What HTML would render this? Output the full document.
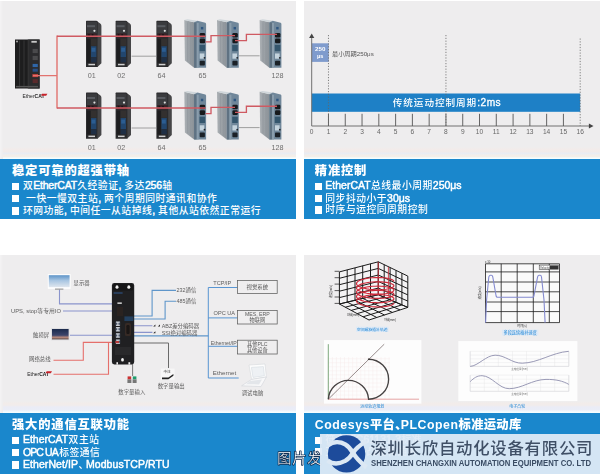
<!DOCTYPE html>
<html lang="zh-CN"><head><meta charset="utf-8"><title>EtherCAT</title>
<style>
html,body{margin:0;padding:0;background:#fff;}
body{width:600px;height:474px;position:relative;overflow:hidden;font-family:"Liberation Sans","Noto Sans CJK SC",sans-serif;}
.p{position:absolute;}
.gray{background:#eeedee;}
.blue{background:#1a87cc;color:#fff;}
.blue h3{position:absolute;margin:0;left:12px;font-weight:900;font-size:12.3px;line-height:16px;white-space:nowrap;font-family:"Liberation Sans","Noto Sans CJK SC",sans-serif;letter-spacing:0.8px}
.blue .l{position:absolute;left:12.5px;font-size:9.8px;line-height:12px;white-space:nowrap;font-family:"Liberation Sans","Noto Sans CJK SC",sans-serif;font-weight:500;letter-spacing:0.5px}
.blue .d{margin-right:-0.3em}
.blue .e{font-weight:400;-webkit-text-stroke:0.45px #fff;font-size:10.5px;letter-spacing:0;margin-right:0.4px}
.blue .c{font-weight:400;-webkit-text-stroke:0.45px #fff;font-size:10.5px;letter-spacing:-0.2px;margin-right:0.4px}
.blue .l i{display:inline-block;width:7.5px;height:7.3px;background:#fff;margin-right:1.8px;vertical-align:-0.6px}
svg{position:absolute;left:0;top:0;}
svg text{font-family:"Liberation Sans","Noto Sans CJK SC",sans-serif;}
#w{position:absolute;left:0;top:0;width:600px;height:474px;overflow:hidden;filter:blur(0.45px)}
</style></head><body><div id="w">

<div class="p gray" style="left:0;top:1px;width:296px;height:158px"></div>
<div class="p gray" style="left:304px;top:1px;width:296px;height:158px"></div>
<div class="p gray" style="left:0;top:255px;width:296px;height:158px"></div>
<div class="p gray" style="left:304px;top:255px;width:296px;height:158px"></div>
<div class="p" style="left:0px;top:147px;width:296px;height:12px;background:linear-gradient(#eeedee 0,#f3ebe9 25%,#f1ebea 40%,#e9ecf3 52%,#f3eee9 70%,#f4efe9 80%,#f4fcfe 92%,#f6feff 100%)"></div>
<div class="p" style="left:0px;top:401px;width:296px;height:12px;background:linear-gradient(#eeedee 0,#f2ecea 22%,#f1ecec 36%,#eaecf6 50%,#eaedf7 74%,#f2fbfe 90%,#f5feff 100%)"></div>
<div class="p" style="left:304px;top:147px;width:296px;height:12px;background:linear-gradient(#eeedee 0,#f3ebe9 25%,#f1ebea 40%,#e9ecf3 52%,#f3eee9 70%,#f4efe9 80%,#f4fcfe 92%,#f6feff 100%)"></div>
<div class="p" style="left:304px;top:401px;width:296px;height:12px;background:linear-gradient(#eeedee 0,#f2ecea 22%,#f1ecec 36%,#eaecf6 50%,#eaedf7 74%,#f2fbfe 90%,#f5feff 100%)"></div>
<div class="p" style="left:0;top:1px;width:3px;height:158px;background:linear-gradient(90deg,#f4f3f4,#eeedee)"></div>
<div class="p" style="left:0;top:255px;width:3px;height:158px;background:linear-gradient(90deg,#f4f3f4,#eeedee)"></div>
<div class="p blue" style="left:0px;top:159px;width:296px;height:60px"><h3 style="top:3.6px;left:12px">稳定可靠的超强带轴</h3><div class="l" style="left:12.2px;top:20.4px"><i style="width:7.2px;margin-right:3.5px"></i>双<span class="c">EtherCAT</span>久经验证<span class="c">, </span>多达<span class="c">256</span>轴</div><div class="l" style="left:12.2px;top:32.75px"><i style="width:7.2px;margin-right:3.5px"></i>&nbsp;一快一慢双主站<span class="c">, </span>两个周期同时通讯和协作</div><div class="l" style="left:12.2px;top:45.1px"><i style="width:7.2px;margin-right:3.5px"></i>环网功能<span class="c">, </span>中间任一从站掉线<span class="c">, </span>其他从站依然正常运行</div></div>
<div class="p blue" style="left:304px;top:159px;width:296px;height:60px"><h3 style="top:3.6px;left:10.8px">精准控制</h3><div class="l" style="left:11px;top:20.4px"><i style="width:7.3px;margin-right:3px"></i><span class="e">EtherCAT</span>总线最小周期<span class="e">250μs</span></div><div class="l" style="left:11px;top:32.75px"><i style="width:7.3px;margin-right:3px"></i>同步抖动小于<span class="e">30μs</span></div><div class="l" style="left:11px;top:45.1px"><i style="width:7.3px;margin-right:3px"></i>时序与运控同周期控制</div></div>
<div class="p blue" style="left:0px;top:413px;width:296px;height:61px"><h3 style="top:3.6px;left:12px">强大的通信互联功能</h3><div class="l" style="left:12.2px;top:20.4px"><i style="width:7.2px;margin-right:3.5px"></i><span class="e">EtherCAT</span>双主站</div><div class="l" style="left:12.2px;top:32.75px"><i style="width:7.2px;margin-right:3.5px"></i><span class="e" style="letter-spacing:-0.9px;margin-right:1.5px">OPC UA</span>标签通信</div><div class="l" style="left:12.2px;top:45.1px"><i style="width:7.2px;margin-right:3.5px"></i><span class="e" style="letter-spacing:0.09px">EtherNet/IP</span><span class="d">、</span><span class="e" style="letter-spacing:0.09px">ModbusTCP/RTU</span></div></div>
<div class="p blue" style="left:304px;top:413px;width:296px;height:61px"><h3 style="top:3.6px;left:10.8px"><span style="letter-spacing:0.3px"><span style="letter-spacing:0.55px">Codesys</span>平台<span style="margin-right:-7px">、</span><span style="letter-spacing:0.55px">PLCopen</span>标准运动库</span></h3><div class="l" style="left:11px;top:20.4px"><i style="width:7.3px;margin-right:3px"></i>符合<span class="e">IEC61131-3</span>标准</div><div class="l" style="left:11px;top:32.75px"><i style="width:7.3px;margin-right:3px"></i>支持电子凸轮和插补</div></div>
<svg width="600" height="474" viewBox="0 0 600 474">
<g id="timeline">
<rect x="311.7" y="93.5" width="268.5" height="18.3" fill="#1e80c6"/>
<rect x="311.7" y="43.3" width="17.0813" height="18.6" fill="#7f9bcd"/>
<path d="M311.7 38 V126 H590" stroke="#707070" stroke-width="1" fill="none"/>
<path d="M311.7 33.5 l-2.6 4.6 h5.2z" fill="#444"/>
<path d="M593.5 126 l-4.6 -2.6 v5.2z" fill="#444"/>
<path d="M328.48 113.8 V126" stroke="#555" stroke-width="0.9"/>
<path d="M345.26 113.8 V126" stroke="#555" stroke-width="0.9"/>
<path d="M362.04 113.8 V126" stroke="#555" stroke-width="0.9"/>
<path d="M378.82 113.8 V126" stroke="#555" stroke-width="0.9"/>
<path d="M395.61 113.8 V126" stroke="#555" stroke-width="0.9"/>
<path d="M412.39 113.8 V126" stroke="#555" stroke-width="0.9"/>
<path d="M429.17 113.8 V126" stroke="#555" stroke-width="0.9"/>
<path d="M445.95 113.8 V126" stroke="#555" stroke-width="0.9"/>
<path d="M462.73 113.8 V126" stroke="#555" stroke-width="0.9"/>
<path d="M479.51 113.8 V126" stroke="#555" stroke-width="0.9"/>
<path d="M496.29 113.8 V126" stroke="#555" stroke-width="0.9"/>
<path d="M513.08 113.8 V126" stroke="#555" stroke-width="0.9"/>
<path d="M529.86 113.8 V126" stroke="#555" stroke-width="0.9"/>
<path d="M546.64 113.8 V126" stroke="#555" stroke-width="0.9"/>
<path d="M563.42 113.8 V126" stroke="#555" stroke-width="0.9"/>
<path d="M328.48 35 V126" stroke="#666" stroke-width="0.8" stroke-dasharray="1.2 1.6"/>
<path d="M445.95 35 V126" stroke="#666" stroke-width="0.8" stroke-dasharray="1.2 1.6"/>
<path d="M580.20 38.5 V126" stroke="#666" stroke-width="0.8" stroke-dasharray="1.2 1.6"/>
<text x="311.70" y="134.2" font-size="6.6" fill="#666" text-anchor="middle">0</text>
<text x="328.48" y="134.2" font-size="6.6" fill="#666" text-anchor="middle">1</text>
<text x="345.26" y="134.2" font-size="6.6" fill="#666" text-anchor="middle">2</text>
<text x="362.04" y="134.2" font-size="6.6" fill="#666" text-anchor="middle">3</text>
<text x="378.82" y="134.2" font-size="6.6" fill="#666" text-anchor="middle">4</text>
<text x="395.61" y="134.2" font-size="6.6" fill="#666" text-anchor="middle">5</text>
<text x="412.39" y="134.2" font-size="6.6" fill="#666" text-anchor="middle">6</text>
<text x="429.17" y="134.2" font-size="6.6" fill="#666" text-anchor="middle">7</text>
<text x="445.95" y="134.2" font-size="6.6" fill="#666" text-anchor="middle">8</text>
<text x="462.73" y="134.2" font-size="6.6" fill="#666" text-anchor="middle">9</text>
<text x="479.51" y="134.2" font-size="6.6" fill="#666" text-anchor="middle">10</text>
<text x="496.29" y="134.2" font-size="6.6" fill="#666" text-anchor="middle">11</text>
<text x="513.08" y="134.2" font-size="6.6" fill="#666" text-anchor="middle">12</text>
<text x="529.86" y="134.2" font-size="6.6" fill="#666" text-anchor="middle">13</text>
<text x="546.64" y="134.2" font-size="6.6" fill="#666" text-anchor="middle">14</text>
<text x="563.42" y="134.2" font-size="6.6" fill="#666" text-anchor="middle">15</text>
<text x="580.20" y="134.2" font-size="6.6" fill="#666" text-anchor="middle">16</text>
<text x="447" y="106.2" font-size="9.6" fill="#fff" text-anchor="middle" style="font-family:'Liberation Sans','Noto Sans CJK SC',sans-serif;font-weight:500" letter-spacing="0.95">传统运动控制周期<tspan font-weight="normal" font-size="10.2" letter-spacing="0.5" stroke="#fff" stroke-width="0.3">:2ms</tspan></text>
<text x="320.2" y="51.3" font-size="6.2" fill="#fff" text-anchor="middle" font-weight="bold">250</text>
<text x="320.2" y="57.8" font-size="5.6" fill="#fff" text-anchor="middle" font-weight="bold">μs</text>
<text x="332" y="56.2" font-size="6.2" fill="#555">最小周期250μs</text>
</g>
<g id="tl">
<defs><linearGradient id="mside" x1="0" y1="0" x2="1" y2="0"><stop offset="0" stop-color="#abb0b4"/><stop offset="1" stop-color="#8a9197"/></linearGradient></defs>
<g transform="translate(15 39.5)">
<rect x="0" y="0" width="24.6" height="49" fill="#1d1d1e"/>
<rect x="13.4" y="0" width="11.2" height="49" fill="#2b2b2d"/>
<path d="M4.6 1 V48 M9 1 V48 M13.2 0 V49" stroke="#3c3c3e" stroke-width="0.8"/>
<rect x="1.2" y="1.2" width="1.6" height="1.6" fill="#bbb"/>
<rect x="16.4" y="1.4" width="5.4" height="1.8" fill="#c9c9c9"/>
<rect x="1" y="46.4" width="22" height="1.4" fill="#555"/>
<rect x="17.6" y="9.4" width="5.2" height="4.2" fill="#4a4a4c"/>
<rect x="17.6" y="16.4" width="5.2" height="4.2" fill="#4a4a4c"/>
<rect x="17.6" y="24.4" width="5.2" height="3.2" fill="#2f66a8"/>
<rect x="17.6" y="29.2" width="5.2" height="3" fill="#274f86"/>
<rect x="17.4" y="34.6" width="5.6" height="3" fill="#c9443f"/>
<rect x="17.6" y="39.6" width="5.2" height="4" fill="#5a2a2c"/>
</g>
<g transform="translate(85.8 20.8)">
<path d="M11.2 0.4 L14.4 2.6 Q15.6 3.4 15.6 5 V42.4 L11.6 46.2 Z" fill="#454547"/>
<path d="M0.8 0 H10.6 Q12 0 12 1.6 V46.2 H0.2 V0.6 Q0.2 0 0.8 0Z" fill="#2b2b2d"/>
<rect x="0.8" y="1" width="10.4" height="11.6" fill="#3a3b3e"/>
<rect x="1.2" y="4.4" width="8" height="2" fill="#595c61"/>
<circle cx="8.6" cy="10" r="1.1" fill="#dcdcdc"/>
<rect x="1.6" y="12.6" width="9" height="4.4" fill="#3b2328"/>
<circle cx="3.2" cy="14.2" r="1" fill="#17171a"/><circle cx="6.8" cy="14.2" r="1" fill="#17171a"/>
<rect x="1.2" y="18" width="3.6" height="24" fill="#1d1d1f"/>
<rect x="5.2" y="18" width="5.6" height="7" fill="#33302f"/>
<rect x="5.2" y="25.4" width="5.4" height="11" fill="#22466e"/>
<rect x="5.8" y="27" width="3.8" height="4" fill="#2c5d91"/>
<rect x="5.2" y="36.6" width="5.4" height="5" fill="#1f2f45"/>
<rect x="2.6" y="43" width="6.6" height="1.5" fill="#d0d0d0"/>
</g>
<g transform="translate(115.4 20.8)">
<path d="M11.2 0.4 L14.4 2.6 Q15.6 3.4 15.6 5 V42.4 L11.6 46.2 Z" fill="#454547"/>
<path d="M0.8 0 H10.6 Q12 0 12 1.6 V46.2 H0.2 V0.6 Q0.2 0 0.8 0Z" fill="#2b2b2d"/>
<rect x="0.8" y="1" width="10.4" height="11.6" fill="#3a3b3e"/>
<rect x="1.2" y="4.4" width="8" height="2" fill="#595c61"/>
<circle cx="8.6" cy="10" r="1.1" fill="#dcdcdc"/>
<rect x="1.6" y="12.6" width="9" height="4.4" fill="#3b2328"/>
<circle cx="3.2" cy="14.2" r="1" fill="#17171a"/><circle cx="6.8" cy="14.2" r="1" fill="#17171a"/>
<rect x="1.2" y="18" width="3.6" height="24" fill="#1d1d1f"/>
<rect x="5.2" y="18" width="5.6" height="7" fill="#33302f"/>
<rect x="5.2" y="25.4" width="5.4" height="11" fill="#22466e"/>
<rect x="5.8" y="27" width="3.8" height="4" fill="#2c5d91"/>
<rect x="5.2" y="36.6" width="5.4" height="5" fill="#1f2f45"/>
<rect x="2.6" y="43" width="6.6" height="1.5" fill="#d0d0d0"/>
</g>
<g transform="translate(156.2 20.8)">
<path d="M11.2 0.4 L14.4 2.6 Q15.6 3.4 15.6 5 V42.4 L11.6 46.2 Z" fill="#454547"/>
<path d="M0.8 0 H10.6 Q12 0 12 1.6 V46.2 H0.2 V0.6 Q0.2 0 0.8 0Z" fill="#2b2b2d"/>
<rect x="0.8" y="1" width="10.4" height="11.6" fill="#3a3b3e"/>
<rect x="1.2" y="4.4" width="8" height="2" fill="#595c61"/>
<circle cx="8.6" cy="10" r="1.1" fill="#dcdcdc"/>
<rect x="1.6" y="12.6" width="9" height="4.4" fill="#3b2328"/>
<circle cx="3.2" cy="14.2" r="1" fill="#17171a"/><circle cx="6.8" cy="14.2" r="1" fill="#17171a"/>
<rect x="1.2" y="18" width="3.6" height="24" fill="#1d1d1f"/>
<rect x="5.2" y="18" width="5.6" height="7" fill="#33302f"/>
<rect x="5.2" y="25.4" width="5.4" height="11" fill="#22466e"/>
<rect x="5.8" y="27" width="3.8" height="4" fill="#2c5d91"/>
<rect x="5.2" y="36.6" width="5.4" height="5" fill="#1f2f45"/>
<rect x="2.6" y="43" width="6.6" height="1.5" fill="#d0d0d0"/>
</g>
<g transform="translate(184.3 19.2) scale(1 1.045)">
<path d="M0 0.8 L9.8 3 V46.4 L0.6 39.6 Z" fill="url(#mside)"/>
<path d="M0 0.8 L3 0 L13.2 1.4 L9.8 3 Z" fill="#cfd6da"/>
<path d="M3.4 3 V40.6 M6.4 3.6 V43" stroke="#8f969b" stroke-width="0.7" fill="none"/>
<path d="M9.8 3 L13.2 1.4 L21 3.4 Q21.8 3.7 21.8 4.6 V46.4 H9.8 Z" fill="#70879a"/>
<rect x="9.8" y="3.2" width="2.6" height="43.2" fill="#5f7282"/>
<rect x="12.4" y="3.6" width="2" height="42.8" fill="#8a9dac"/>
<rect x="16.6" y="7.4" width="2.4" height="2.4" fill="#2f5680"/>
<rect x="15.4" y="13.1" width="5.4" height="4.4" rx="1.2" fill="#17191c"/>
<rect x="15.4" y="18.5" width="5.4" height="4.4" rx="1.2" fill="#17191c"/>
<rect x="15.2" y="24.6" width="5.6" height="6" fill="#35566d"/>
<rect x="15.4" y="32.8" width="4.6" height="5" fill="#c4d3dd"/>
<circle cx="20.2" cy="37" r="0.9" fill="#1d2228"/>
<rect x="15.4" y="39.8" width="5.2" height="4.4" rx="0.8" fill="#1b2127"/>
</g>
<g transform="translate(217 19.2) scale(1 1.045)">
<path d="M0 0.8 L9.8 3 V46.4 L0.6 39.6 Z" fill="url(#mside)"/>
<path d="M0 0.8 L3 0 L13.2 1.4 L9.8 3 Z" fill="#cfd6da"/>
<path d="M3.4 3 V40.6 M6.4 3.6 V43" stroke="#8f969b" stroke-width="0.7" fill="none"/>
<path d="M9.8 3 L13.2 1.4 L21 3.4 Q21.8 3.7 21.8 4.6 V46.4 H9.8 Z" fill="#70879a"/>
<rect x="9.8" y="3.2" width="2.6" height="43.2" fill="#5f7282"/>
<rect x="12.4" y="3.6" width="2" height="42.8" fill="#8a9dac"/>
<rect x="16.6" y="7.4" width="2.4" height="2.4" fill="#2f5680"/>
<rect x="15.4" y="13.1" width="5.4" height="4.4" rx="1.2" fill="#17191c"/>
<rect x="15.4" y="18.5" width="5.4" height="4.4" rx="1.2" fill="#17191c"/>
<rect x="15.2" y="24.6" width="5.6" height="6" fill="#35566d"/>
<rect x="15.4" y="32.8" width="4.6" height="5" fill="#c4d3dd"/>
<circle cx="20.2" cy="37" r="0.9" fill="#1d2228"/>
<rect x="15.4" y="39.8" width="5.2" height="4.4" rx="0.8" fill="#1b2127"/>
</g>
<g transform="translate(259.6 19.2) scale(1 1.045)">
<path d="M0 0.8 L9.8 3 V46.4 L0.6 39.6 Z" fill="url(#mside)"/>
<path d="M0 0.8 L3 0 L13.2 1.4 L9.8 3 Z" fill="#cfd6da"/>
<path d="M3.4 3 V40.6 M6.4 3.6 V43" stroke="#8f969b" stroke-width="0.7" fill="none"/>
<path d="M9.8 3 L13.2 1.4 L21 3.4 Q21.8 3.7 21.8 4.6 V46.4 H9.8 Z" fill="#70879a"/>
<rect x="9.8" y="3.2" width="2.6" height="43.2" fill="#5f7282"/>
<rect x="12.4" y="3.6" width="2" height="42.8" fill="#8a9dac"/>
<rect x="16.6" y="7.4" width="2.4" height="2.4" fill="#2f5680"/>
<rect x="15.4" y="13.1" width="5.4" height="4.4" rx="1.2" fill="#17191c"/>
<rect x="15.4" y="18.5" width="5.4" height="4.4" rx="1.2" fill="#17191c"/>
<rect x="15.2" y="24.6" width="5.6" height="6" fill="#35566d"/>
<rect x="15.4" y="32.8" width="4.6" height="5" fill="#c4d3dd"/>
<circle cx="20.2" cy="37" r="0.9" fill="#1d2228"/>
<rect x="15.4" y="39.8" width="5.2" height="4.4" rx="0.8" fill="#1b2127"/>
</g>
<path d="M131.6 56.2 H156" stroke="#8a8a8a" stroke-width="0.8"/>
<path d="M239 55.8 H259.6" stroke="#8a8a8a" stroke-width="0.8"/>
<text x="91.8" y="77.8" font-size="7.2" fill="#6e6e6e" text-anchor="middle">01</text>
<text x="121.2" y="77.8" font-size="7.2" fill="#6e6e6e" text-anchor="middle">02</text>
<text x="161.6" y="77.8" font-size="7.2" fill="#6e6e6e" text-anchor="middle">64</text>
<text x="202.4" y="77.8" font-size="7.2" fill="#6e6e6e" text-anchor="middle">65</text>
<text x="277.6" y="77.8" font-size="7.2" fill="#6e6e6e" text-anchor="middle">128</text>
<g transform="translate(85.8 92.6)">
<path d="M11.2 0.4 L14.4 2.6 Q15.6 3.4 15.6 5 V42.4 L11.6 46.2 Z" fill="#454547"/>
<path d="M0.8 0 H10.6 Q12 0 12 1.6 V46.2 H0.2 V0.6 Q0.2 0 0.8 0Z" fill="#2b2b2d"/>
<rect x="0.8" y="1" width="10.4" height="11.6" fill="#3a3b3e"/>
<rect x="1.2" y="4.4" width="8" height="2" fill="#595c61"/>
<circle cx="8.6" cy="10" r="1.1" fill="#dcdcdc"/>
<rect x="1.6" y="12.6" width="9" height="4.4" fill="#3b2328"/>
<circle cx="3.2" cy="14.2" r="1" fill="#17171a"/><circle cx="6.8" cy="14.2" r="1" fill="#17171a"/>
<rect x="1.2" y="18" width="3.6" height="24" fill="#1d1d1f"/>
<rect x="5.2" y="18" width="5.6" height="7" fill="#33302f"/>
<rect x="5.2" y="25.4" width="5.4" height="11" fill="#22466e"/>
<rect x="5.8" y="27" width="3.8" height="4" fill="#2c5d91"/>
<rect x="5.2" y="36.6" width="5.4" height="5" fill="#1f2f45"/>
<rect x="2.6" y="43" width="6.6" height="1.5" fill="#d0d0d0"/>
</g>
<g transform="translate(115.4 92.6)">
<path d="M11.2 0.4 L14.4 2.6 Q15.6 3.4 15.6 5 V42.4 L11.6 46.2 Z" fill="#454547"/>
<path d="M0.8 0 H10.6 Q12 0 12 1.6 V46.2 H0.2 V0.6 Q0.2 0 0.8 0Z" fill="#2b2b2d"/>
<rect x="0.8" y="1" width="10.4" height="11.6" fill="#3a3b3e"/>
<rect x="1.2" y="4.4" width="8" height="2" fill="#595c61"/>
<circle cx="8.6" cy="10" r="1.1" fill="#dcdcdc"/>
<rect x="1.6" y="12.6" width="9" height="4.4" fill="#3b2328"/>
<circle cx="3.2" cy="14.2" r="1" fill="#17171a"/><circle cx="6.8" cy="14.2" r="1" fill="#17171a"/>
<rect x="1.2" y="18" width="3.6" height="24" fill="#1d1d1f"/>
<rect x="5.2" y="18" width="5.6" height="7" fill="#33302f"/>
<rect x="5.2" y="25.4" width="5.4" height="11" fill="#22466e"/>
<rect x="5.8" y="27" width="3.8" height="4" fill="#2c5d91"/>
<rect x="5.2" y="36.6" width="5.4" height="5" fill="#1f2f45"/>
<rect x="2.6" y="43" width="6.6" height="1.5" fill="#d0d0d0"/>
</g>
<g transform="translate(156.2 92.6)">
<path d="M11.2 0.4 L14.4 2.6 Q15.6 3.4 15.6 5 V42.4 L11.6 46.2 Z" fill="#454547"/>
<path d="M0.8 0 H10.6 Q12 0 12 1.6 V46.2 H0.2 V0.6 Q0.2 0 0.8 0Z" fill="#2b2b2d"/>
<rect x="0.8" y="1" width="10.4" height="11.6" fill="#3a3b3e"/>
<rect x="1.2" y="4.4" width="8" height="2" fill="#595c61"/>
<circle cx="8.6" cy="10" r="1.1" fill="#dcdcdc"/>
<rect x="1.6" y="12.6" width="9" height="4.4" fill="#3b2328"/>
<circle cx="3.2" cy="14.2" r="1" fill="#17171a"/><circle cx="6.8" cy="14.2" r="1" fill="#17171a"/>
<rect x="1.2" y="18" width="3.6" height="24" fill="#1d1d1f"/>
<rect x="5.2" y="18" width="5.6" height="7" fill="#33302f"/>
<rect x="5.2" y="25.4" width="5.4" height="11" fill="#22466e"/>
<rect x="5.8" y="27" width="3.8" height="4" fill="#2c5d91"/>
<rect x="5.2" y="36.6" width="5.4" height="5" fill="#1f2f45"/>
<rect x="2.6" y="43" width="6.6" height="1.5" fill="#d0d0d0"/>
</g>
<g transform="translate(184.3 91) scale(1 1.045)">
<path d="M0 0.8 L9.8 3 V46.4 L0.6 39.6 Z" fill="url(#mside)"/>
<path d="M0 0.8 L3 0 L13.2 1.4 L9.8 3 Z" fill="#cfd6da"/>
<path d="M3.4 3 V40.6 M6.4 3.6 V43" stroke="#8f969b" stroke-width="0.7" fill="none"/>
<path d="M9.8 3 L13.2 1.4 L21 3.4 Q21.8 3.7 21.8 4.6 V46.4 H9.8 Z" fill="#70879a"/>
<rect x="9.8" y="3.2" width="2.6" height="43.2" fill="#5f7282"/>
<rect x="12.4" y="3.6" width="2" height="42.8" fill="#8a9dac"/>
<rect x="16.6" y="7.4" width="2.4" height="2.4" fill="#2f5680"/>
<rect x="15.4" y="13.1" width="5.4" height="4.4" rx="1.2" fill="#17191c"/>
<rect x="15.4" y="18.5" width="5.4" height="4.4" rx="1.2" fill="#17191c"/>
<rect x="15.2" y="24.6" width="5.6" height="6" fill="#35566d"/>
<rect x="15.4" y="32.8" width="4.6" height="5" fill="#c4d3dd"/>
<circle cx="20.2" cy="37" r="0.9" fill="#1d2228"/>
<rect x="15.4" y="39.8" width="5.2" height="4.4" rx="0.8" fill="#1b2127"/>
</g>
<g transform="translate(217 91) scale(1 1.045)">
<path d="M0 0.8 L9.8 3 V46.4 L0.6 39.6 Z" fill="url(#mside)"/>
<path d="M0 0.8 L3 0 L13.2 1.4 L9.8 3 Z" fill="#cfd6da"/>
<path d="M3.4 3 V40.6 M6.4 3.6 V43" stroke="#8f969b" stroke-width="0.7" fill="none"/>
<path d="M9.8 3 L13.2 1.4 L21 3.4 Q21.8 3.7 21.8 4.6 V46.4 H9.8 Z" fill="#70879a"/>
<rect x="9.8" y="3.2" width="2.6" height="43.2" fill="#5f7282"/>
<rect x="12.4" y="3.6" width="2" height="42.8" fill="#8a9dac"/>
<rect x="16.6" y="7.4" width="2.4" height="2.4" fill="#2f5680"/>
<rect x="15.4" y="13.1" width="5.4" height="4.4" rx="1.2" fill="#17191c"/>
<rect x="15.4" y="18.5" width="5.4" height="4.4" rx="1.2" fill="#17191c"/>
<rect x="15.2" y="24.6" width="5.6" height="6" fill="#35566d"/>
<rect x="15.4" y="32.8" width="4.6" height="5" fill="#c4d3dd"/>
<circle cx="20.2" cy="37" r="0.9" fill="#1d2228"/>
<rect x="15.4" y="39.8" width="5.2" height="4.4" rx="0.8" fill="#1b2127"/>
</g>
<g transform="translate(259.6 91) scale(1 1.045)">
<path d="M0 0.8 L9.8 3 V46.4 L0.6 39.6 Z" fill="url(#mside)"/>
<path d="M0 0.8 L3 0 L13.2 1.4 L9.8 3 Z" fill="#cfd6da"/>
<path d="M3.4 3 V40.6 M6.4 3.6 V43" stroke="#8f969b" stroke-width="0.7" fill="none"/>
<path d="M9.8 3 L13.2 1.4 L21 3.4 Q21.8 3.7 21.8 4.6 V46.4 H9.8 Z" fill="#70879a"/>
<rect x="9.8" y="3.2" width="2.6" height="43.2" fill="#5f7282"/>
<rect x="12.4" y="3.6" width="2" height="42.8" fill="#8a9dac"/>
<rect x="16.6" y="7.4" width="2.4" height="2.4" fill="#2f5680"/>
<rect x="15.4" y="13.1" width="5.4" height="4.4" rx="1.2" fill="#17191c"/>
<rect x="15.4" y="18.5" width="5.4" height="4.4" rx="1.2" fill="#17191c"/>
<rect x="15.2" y="24.6" width="5.6" height="6" fill="#35566d"/>
<rect x="15.4" y="32.8" width="4.6" height="5" fill="#c4d3dd"/>
<circle cx="20.2" cy="37" r="0.9" fill="#1d2228"/>
<rect x="15.4" y="39.8" width="5.2" height="4.4" rx="0.8" fill="#1b2127"/>
</g>
<path d="M131.6 128 H156" stroke="#8a8a8a" stroke-width="0.8"/>
<path d="M239 127.6 H259.6" stroke="#8a8a8a" stroke-width="0.8"/>
<text x="91.8" y="149.6" font-size="7.2" fill="#6e6e6e" text-anchor="middle">01</text>
<text x="121.2" y="149.6" font-size="7.2" fill="#6e6e6e" text-anchor="middle">02</text>
<text x="161.6" y="149.6" font-size="7.2" fill="#6e6e6e" text-anchor="middle">64</text>
<text x="202.4" y="149.6" font-size="7.2" fill="#6e6e6e" text-anchor="middle">65</text>
<text x="277.6" y="149.6" font-size="7.2" fill="#6e6e6e" text-anchor="middle">128</text>
<path d="M33 75.6 H57 M57 35.6 V108.4" stroke="#e2736f" stroke-width="1.4" fill="none"/>
<path d="M57 36.2 H205.6 M205.6 41.8 H211 V35.6 H235 M235 40.6 H246.4 V34.4 H277" stroke="#cf5a62" stroke-width="1.35" fill="none"/>
<path d="M57 108 H205.6 M205.6 113.6 H211 V107.4 H235 M235 112.4 H246.4 V106.2 H277" stroke="#cf5a62" stroke-width="1.35" fill="none"/>
<text x="22.6" y="98.2" font-size="5" fill="#222"><tspan>Ether</tspan><tspan font-weight="bold">CAT</tspan></text>
<path d="M42 93.8 h5.4 l-1.2 2 h-5z" fill="#c8222a"/>
</g>
<g id="bl">
<defs><linearGradient id="sky" x1="0" y1="0" x2="0" y2="1"><stop offset="0" stop-color="#5d94c8"/><stop offset="0.45" stop-color="#a9c6e2"/><stop offset="1" stop-color="#dfe6ee"/></linearGradient><linearGradient id="dusk" x1="0" y1="0" x2="0" y2="1"><stop offset="0" stop-color="#1b2a4c"/><stop offset="0.6" stop-color="#3c456b"/><stop offset="0.8" stop-color="#b98a7c"/><stop offset="1" stop-color="#5a4a4a"/></linearGradient></defs>
<path d="M59.5 289.6 V303.9 H112" stroke="#8a94cc" stroke-width="1.1" fill="none"/>
<path d="M63 311 H112" stroke="#8a94cc" stroke-width="1.1" fill="none"/>
<path d="M70 335.2 H112" stroke="#8a94cc" stroke-width="1.1" fill="none"/>
<path d="M53.5 360.3 H83.3 V342.4 H118" stroke="#e56f6b" stroke-width="1.1" fill="none"/>
<path d="M53.5 374.2 H108.5 V342.4" stroke="#e56f6b" stroke-width="1.1" fill="none"/>
<path d="M134 316 H152.1 V290.4 H176" stroke="#5f96ca" stroke-width="1.1" fill="none"/>
<path d="M134 319 H165.1 V301.3 H176" stroke="#5f96ca" stroke-width="1.1" fill="none"/>
<path d="M134 325.8 H152.4 M134 332.4 H152.4" stroke="#8a94cc" stroke-width="1.1" fill="none"/>
<path d="M134 335.9 H208.3" stroke="#5f96ca" stroke-width="1.1" fill="none"/>
<path d="M134 343 H168.5 V368" stroke="#6a6a6a" stroke-width="1" fill="none"/>
<path d="M132.6 364 V376" stroke="#7a7a7a" stroke-width="1" fill="none"/>
<path d="M237.4 287.5 H208.3 V378 H238.7 M208.3 317.9 H237.4 M208.3 346.3 H237.4" stroke="#4f90d0" stroke-width="0.95" fill="none"/>
<g>
<rect x="111.9" y="283" width="22.3" height="81.5" rx="2.4" fill="#202022"/>
<rect x="113" y="284" width="20.2" height="6.6" rx="1.6" fill="#161617"/>
<path d="M117 285.2 q1.5 0 1.5 2.1 q0 1.5 -1.5 1.5 q-1.5 0 -1.5 -1.5 q0 -2.1 1.5 -2.1z" fill="#f2f2f2"/>
<path d="M128.8 285.2 q1.5 0 1.5 2.1 q0 1.5 -1.5 1.5 q-1.5 0 -1.5 -1.5 q0 -2.1 1.5 -2.1z" fill="#f2f2f2"/>
<path d="M122.5 358 q1.4 0 1.4 1.9 q0 1.5 -1.4 1.5 q-1.4 0 -1.4 -1.5 q0 -1.9 1.4 -1.9z" fill="#f2f2f2"/>
<rect x="113.6" y="292" width="9" height="2" fill="#2b4870" opacity="0.7"/>
<rect x="117.4" y="302.4" width="4.4" height="1.5" fill="#d8d8d8"/>
<rect x="117" y="307" width="6" height="9" fill="#2a2321"/>
<rect x="124.4" y="316.4" width="9" height="4.6" fill="#23405f"/>
<path d="M115.6 321.6 h4.6 v4.2 h-4.6z" fill="#4b5668"/>
<path d="M116 322.1 h3.8 M117.9 322 v3.4 M116 325.3 h3.8" stroke="#e4e6ea" stroke-width="1" fill="none"/>
<path d="M115.6 327.2 h4.6 v4.2 h-4.6z" fill="#4b5668"/>
<path d="M116 327.7 h3.8 M117.9 327.6 v3.4 M116 330.9 h3.8" stroke="#e4e6ea" stroke-width="1" fill="none"/>
<path d="M115.6 333.4 h4.6 v4.2 h-4.6z" fill="#4b5668"/>
<path d="M116 333.9 h3.8 M117.9 333.8 v3.4 M116 337.1 h3.8" stroke="#e4e6ea" stroke-width="1" fill="none"/>
<path d="M115.6 339.6 h4.6 v4.2 h-4.6z" fill="#4b5668"/>
<path d="M116 340.1 h3.8 M117.9 340 v3.4 M116 343.3 h3.8" stroke="#e4e6ea" stroke-width="1" fill="none"/>
<rect x="115.4" y="341" width="3.6" height="2.2" fill="#b93a3a"/>
<rect x="125" y="323" width="6" height="13" rx="1.6" fill="#362a25"/>
<rect x="126.4" y="325" width="3.2" height="9" rx="1.2" fill="#1a1615"/>
<rect x="115" y="347" width="16" height="8" fill="#29292b"/>
<rect x="116.4" y="362.2" width="1.6" height="2.4" fill="#eeedee"/><rect x="128.4" y="362.2" width="1.8" height="2.4" fill="#eeedee"/>
</g>
<path d="M153.2 326.6 l2.2 -2 v2z M157.8 326.6 l2.2 -2 v2z M153.2 333.2 l2.2 -2 v2z" fill="#222"/>
<rect x="47.8" y="274.2" width="22.8" height="14.6" fill="#fff"/>
<rect x="48.8" y="275.2" width="20.8" height="12" fill="url(#sky)"/>
<rect x="55" y="288.6" width="8.4" height="1" fill="#8a8a8a"/>
<rect x="51.2" y="328.3" width="18.2" height="12" fill="#d9d9dc"/>
<rect x="52" y="329" width="16.6" height="10.4" fill="url(#dusk)"/>
<rect x="127.6" y="376.4" width="3.6" height="3" fill="#c33"/><rect x="127.4" y="379.4" width="4" height="3.6" fill="#777"/>
<rect x="132.8" y="376.4" width="3.6" height="3" fill="#1f9d6d"/><rect x="132.6" y="379.4" width="4" height="3.6" fill="#777"/>
<rect x="160.8" y="368.6" width="13.8" height="11.2" fill="#f7f7f7"/>
<path d="M162 377.4 h6.4 l5 -3.4 v1.8 l-5 3.4 h-6.4z" fill="#222"/>
<text x="163.4" y="373" font-size="3.6" fill="#333">中注</text>
<rect x="237.4" y="280.4" width="39.8" height="13.2" fill="#efeeef" stroke="#5c5c5c" stroke-width="0.75"/>
<rect x="237.4" y="310.4" width="39.8" height="13.6" fill="#efeeef" stroke="#5c5c5c" stroke-width="0.75"/>
<rect x="237.4" y="340.2" width="39.8" height="13.8" fill="#efeeef" stroke="#5c5c5c" stroke-width="0.75"/>
<g transform="translate(241 364)"><path d="M8 1 L24 0 L25.4 13 L10.6 15.4 Z" fill="#fdfdfd" stroke="#d5d8dc" stroke-width="0.6"/><path d="M10.4 3.4 L22.4 2.6 L23.4 11.8 L12 13.4Z" fill="#eef1f4" stroke="#cfd6dd" stroke-width="0.5"/><path d="M10.6 15.4 L25.4 13 L20 22.6 L0.6 21.8 Z" fill="#f8f8f9" stroke="#d0d4d8" stroke-width="0.6"/><path d="M9 17 L21 15.6 L18 20.4 L5 20.2Z" fill="#e3e6ea"/></g>
<text x="73.5" y="285" font-size="5.4" fill="#5c5c5c" text-anchor="start" >显示器</text>
<text x="11" y="313" font-size="5.4" fill="#5c5c5c" text-anchor="start" textLength="50" lengthAdjust="spacingAndGlyphs">UPS, stop等专用IO</text>
<text x="33" y="336.6" font-size="5.4" fill="#5c5c5c" text-anchor="start" >触摸屏</text>
<text x="29" y="360.6" font-size="5.4" fill="#5c5c5c" text-anchor="start" >网络总线</text>
<text x="27.2" y="375.6" font-size="5" fill="#222"><tspan>Ether</tspan><tspan font-weight="bold">CAT</tspan></text>
<path d="M46.6 371.2 h5.4 l-1.2 2 h-5z" fill="#c8222a"/>
<text x="176.6" y="292.4" font-size="5.4" fill="#5c5c5c" text-anchor="start" >232通信</text>
<text x="176.6" y="303.4" font-size="5.4" fill="#5c5c5c" text-anchor="start" >485通信</text>
<text x="161.7" y="327.8" font-size="5.4" fill="#5c5c5c" text-anchor="start" >ABZ差分编码器</text>
<text x="161.7" y="334.6" font-size="5.4" fill="#5c5c5c" text-anchor="start" >SSI绝对编码器</text>
<text x="131.8" y="394.4" font-size="5.4" fill="#5c5c5c" text-anchor="middle" >数字量输入</text>
<text x="171.2" y="388" font-size="5.4" fill="#5c5c5c" text-anchor="middle" >数字量输出</text>
<text x="213.3" y="285" font-size="5.6" fill="#5c5c5c" text-anchor="start" >TCP/IP</text>
<text x="213.6" y="314.8" font-size="5.6" fill="#5c5c5c" text-anchor="start" >OPC UA</text>
<text x="210.8" y="345.2" font-size="5.4" fill="#5c5c5c" text-anchor="start" textLength="26" lengthAdjust="spacingAndGlyphs">Ethernet/IP</text>
<text x="212.8" y="375" font-size="5.8" fill="#5c5c5c" text-anchor="start" textLength="23.3" lengthAdjust="spacingAndGlyphs">Ethernet</text>
<text x="257.3" y="289" font-size="5.4" fill="#5c5c5c" text-anchor="middle" >视觉系统</text>
<text x="257.3" y="316.2" font-size="5.2" fill="#5c5c5c" text-anchor="middle" >MES, ERP</text>
<text x="257.3" y="322.4" font-size="5.2" fill="#5c5c5c" text-anchor="middle" >物联网</text>
<text x="257.3" y="346.4" font-size="5.2" fill="#5c5c5c" text-anchor="middle" >其他PLC</text>
<text x="257.3" y="352.4" font-size="5.2" fill="#5c5c5c" text-anchor="middle" >其他设备</text>
<text x="252.5" y="395.2" font-size="5.4" fill="#5c5c5c" text-anchor="middle" >调试电脑</text>
</g>
<g id="c3d">
<path d="M339.4 271.9 L378.3 261.8 L407.8 276.1 L407.8 307.4 L369 320 L339.4 304Z" fill="#f4f3f4"/>
<path d="M339.4 271.9 L339.4 304.0 M339.4 271.9 L378.3 261.8 M347.2 269.9 L347.2 302.1 M339.4 278.3 L378.3 268.4 M355.0 267.9 L355.0 300.3 M339.4 284.7 L378.3 275.0 M362.7 265.8 L362.7 298.4 M339.4 291.2 L378.3 281.5 M370.5 263.8 L370.5 296.6 M339.4 297.6 L378.3 288.1 M378.3 261.8 L378.3 294.7 M339.4 304.0 L378.3 294.7 M378.3 261.8 L378.3 294.7 M378.3 261.8 L407.8 276.1 M384.2 264.7 L384.2 297.2 M378.3 268.4 L407.8 282.4 M390.1 267.5 L390.1 299.8 M378.3 275.0 L407.8 288.6 M396.0 270.4 L396.0 302.3 M378.3 281.5 L407.8 294.9 M401.9 273.2 L401.9 304.9 M378.3 288.1 L407.8 301.1 M407.8 276.1 L407.8 307.4 M378.3 294.7 L407.8 307.4 M339.4 304.0 L369.0 320.0 M339.4 304.0 L378.3 294.7 M347.2 302.1 L376.8 317.5 M345.3 307.2 L384.2 297.2 M355.0 300.3 L384.5 315.0 M351.2 310.4 L390.1 299.8 M362.7 298.4 L392.3 312.4 M357.2 313.6 L396.0 302.3 M370.5 296.6 L400.0 309.9 M363.1 316.8 L401.9 304.9 M378.3 294.7 L407.8 307.4 M369.0 320.0 L407.8 307.4" stroke="#1a1a1a" stroke-width="1.0" fill="none"/>
<path d="M334.6 271.3 H339.4" stroke="#1a1a1a" stroke-width="0.7"/>
<path d="M334.6 277.7 H339.4" stroke="#1a1a1a" stroke-width="0.7"/>
<path d="M334.6 284.1 H339.4" stroke="#1a1a1a" stroke-width="0.7"/>
<path d="M334.6 290.6 H339.4" stroke="#1a1a1a" stroke-width="0.7"/>
<path d="M334.6 297.0 H339.4" stroke="#1a1a1a" stroke-width="0.7"/>
<path d="M334.6 303.4 H339.4" stroke="#1a1a1a" stroke-width="0.7"/>
<path d="M393.9 303.0 L393.7 303.7 L393.0 304.3 L391.9 304.9 L390.3 305.5 L388.4 306.0 L386.2 306.4 L383.7 306.7 L381.0 306.9 L378.1 307.0 L375.2 306.9 L372.3 306.8 L369.4 306.5 L366.7 306.1 L364.2 305.5 L362.0 304.9 L360.1 304.2 L358.5 303.4 L357.4 302.6 L356.7 301.7 L356.5 300.9 L356.7 300.0 L357.4 299.1 L358.5 298.3 L360.1 297.5 L362.0 296.8 L364.2 296.2 L366.7 295.6 L369.4 295.2 L372.3 294.9 L375.2 294.8 L378.1 294.7 L381.0 294.8 L383.7 295.0 L386.2 295.3 L388.4 295.7 L390.3 296.2 L391.9 296.8 L393.0 297.4 L393.7 298.0 L393.9 298.7 L393.7 299.4 L393.0 300.0 L391.9 300.6 L390.3 301.2 L388.4 301.7 L386.2 302.1 L383.7 302.4 L381.0 302.6 L378.1 302.7 L375.2 302.6 L372.3 302.5 L369.4 302.2 L366.7 301.8 L364.2 301.2 L362.0 300.6 L360.1 299.9 L358.5 299.1 L357.4 298.3 L356.7 297.4 L356.5 296.6 L356.7 295.7 L357.4 294.8 L358.5 294.0 L360.1 293.2 L362.0 292.5 L364.2 291.9 L366.7 291.3 L369.4 290.9 L372.3 290.6 L375.2 290.5 L378.1 290.4 L381.0 290.5 L383.7 290.7 L386.2 291.0 L388.4 291.4 L390.3 291.9 L391.9 292.5 L393.0 293.1 L393.7 293.7 L393.9 294.4 L393.7 295.1 L393.0 295.7 L391.9 296.3 L390.3 296.9 L388.4 297.4 L386.2 297.8 L383.7 298.1 L381.0 298.3 L378.1 298.4 L375.2 298.3 L372.3 298.2 L369.4 297.9 L366.7 297.5 L364.2 296.9 L362.0 296.3 L360.1 295.6 L358.5 294.8 L357.4 294.0 L356.7 293.1 L356.5 292.2 L356.7 291.4 L357.4 290.5 L358.5 289.7 L360.1 288.9 L362.0 288.2 L364.2 287.6 L366.7 287.0 L369.4 286.6 L372.3 286.3 L375.2 286.2 L378.1 286.1 L381.0 286.2 L383.7 286.4 L386.2 286.7 L388.4 287.1 L390.3 287.6 L391.9 288.2 L393.0 288.8 L393.7 289.4 L393.9 290.1 L393.7 290.8 L393.0 291.4 L391.9 292.0 L390.3 292.6 L388.4 293.1 L386.2 293.5 L383.7 293.8 L381.0 294.0 L378.1 294.1 L375.2 294.0 L372.3 293.9 L369.4 293.6 L366.7 293.2 L364.2 292.6 L362.0 292.0 L360.1 291.3 L358.5 290.5 L357.4 289.7 L356.7 288.8 L356.5 287.9 L356.7 287.1 L357.4 286.2 L358.5 285.4 L360.1 284.6 L362.0 283.9 L364.2 283.3 L366.7 282.7 L369.4 282.3 L372.3 282.0 L375.2 281.9 L378.1 281.8 L381.0 281.9 L383.7 282.1 L386.2 282.4 L388.4 282.8 L390.3 283.3 L391.9 283.9 L393.0 284.5 L393.7 285.1 L393.9 285.8 L393.7 286.5 L393.0 287.1 L391.9 287.7 L390.3 288.3 L388.4 288.8 L386.2 289.2 L383.7 289.5 L381.0 289.7 L378.1 289.8 L375.2 289.7 L372.3 289.6 L369.4 289.3 L366.7 288.9 L364.2 288.3 L362.0 287.7 L360.1 287.0 L358.5 286.2 L357.4 285.4 L356.7 284.5 L356.5 283.6 L356.7 282.8 L357.4 281.9 L358.5 281.1 L360.1 280.3 L362.0 279.6 L364.2 279.0 L366.7 278.4 L369.4 278.0 L372.3 277.7 L375.2 277.6 L378.1 277.5 L381.0 277.6 L383.7 277.8 L386.2 278.1 L388.4 278.5 L390.3 279.0 L391.9 279.6 L393.0 280.2 L393.7 280.8 L393.9 281.5" stroke="#cf2a3a" stroke-width="1.15" fill="none"/>
<path d="M378.3 262 V294.7 M388.4 267 V296" stroke="#c43541" stroke-width="0.9" fill="none"/>
<text x="329" y="289" font-size="3" fill="#333" transform="rotate(-90 331.5 289)" text-anchor="middle">速度(m/s)</text>
<text x="347" y="316" font-size="3" fill="#333">X轴(mm)</text>
<text x="384" y="320.6" font-size="3" fill="#333">Y轴(mm)</text>
<rect x="356" y="326.6" width="32.6" height="5.4" fill="#dfeaf6"/>
<text x="372.3" y="330.8" font-size="3.8" fill="#1f86d6" text-anchor="middle">空间螺旋插补轨迹</text>
</g>
<g id="c2d">
<rect x="485.5" y="263.8" width="74" height="58.8" fill="#fafafa"/>
<path d="M485.5 263.8 V322.6 M501.2 263.8 V322.6 M517.2 263.8 V322.6 M533.3 263.8 V322.6 M549.3 263.8 V322.6 M559.5 263.8 V322.6 M485.5 263.8 H559.5 M485.5 271.9 H559.5 M485.5 282 H559.5 M485.5 291.8 H559.5 M485.5 302 H559.5 M485.5 311.6 H559.5 M485.5 322.6 H559.5" stroke="#1c1c1c" stroke-width="0.8" fill="none"/>
<path d="M485.6 322.6 L486.6 300 L488.8 277 Q489.4 275.3 490.4 275.3 H491.4 Q492.4 275.3 492.8 277 L496.1 296 Q496.4 297.2 497.4 297.2 H532.6 Q533.6 297.2 533.9 296 L537.6 277 Q538.1 275.3 539 275.3 H540.2 Q541.2 275.3 541.5 277 L544 300 L545.1 322.6" stroke="#8389cf" stroke-width="1.1" fill="none"/>
<rect x="539.2" y="265.1" width="19.4" height="4.4" fill="#fff" stroke="#222" stroke-width="0.5"/>
<rect x="549.6" y="265.6" width="8.4" height="3.4" fill="#333"/>
<text x="540" y="268.6" font-size="2.8" fill="#444">Velocity</text>
<text x="485" y="262.6" font-size="2.8" fill="#333">x 10</text>
<text x="480.6" y="293" font-size="3" fill="#333" transform="rotate(-90 480.6 293)" text-anchor="middle">速度(m/s)</text>
<text x="522" y="327" font-size="3" fill="#333" text-anchor="middle">时间(s)</text>
<rect x="502" y="329.6" width="36.4" height="5.8" fill="#dfeaf6"/>
<text x="520.2" y="333.9" font-size="4.2" fill="#1f86d6" text-anchor="middle">多段连续插补速度</text>
</g>
<g id="carc">
<rect x="324" y="340.1" width="97.4" height="63.6" fill="#fdfdfd"/>
<path d="M328.3 357 V399.2 M332.4 357 V399.2 M336.4 357 V399.2 M340.5 357 V399.2 M344.5 357 V399.2 M348.6 357 V399.2 M352.6 357 V399.2 M356.7 357 V399.2 M360.7 357 V399.2 M364.8 357 V399.2 M368.8 357 V399.2 M372.9 357 V399.2 M376.9 357 V399.2 M381.0 357 V399.2 M385.0 357 V399.2 M389.1 357 V399.2 M328.3 399.2 H390 M328.3 395.1 H390 M328.3 391.1 H390 M328.3 387.0 H390 M328.3 383.0 H390 M328.3 378.9 H390 M328.3 374.9 H390 M328.3 370.8 H390 M328.3 366.8 H390 M328.3 362.7 H390 M328.3 358.7 H390" stroke="#f6e3e3" stroke-width="0.3" fill="none"/>
<path d="M328.3 344.2 V399.2" stroke="#6f9f6f" stroke-width="0.9"/>
<path d="M328.3 399.2 H419" stroke="#e39a9a" stroke-width="0.9"/>
<path d="M328.3 399.2 L384.2 344.2" stroke="#6b5c5c" stroke-width="0.7"/>
<path d="M328.3 399.2 A20.2 20.2 0 0 1 368.6 399.2 A20 20 0 0 0 368.6 359.2" stroke="#464242" stroke-width="1.35" fill="none"/>
<circle cx="368.6" cy="359.2" r="0.8" fill="#333"/>
<text x="372.2" y="407.6" font-size="4" fill="#1f86d6" text-anchor="middle">运动轨迹规划</text>
</g>
<g id="ccam">
<rect x="458.3" y="341.1" width="119.1" height="60" fill="#fdfdfd"/>
<path d="M470.2 351.3 V366.4 M484.3 351.3 V366.4 M498.4 351.3 V366.4 M512.5 351.3 V366.4 M526.5 351.3 V366.4 M540.6 351.3 V366.4 M554.7 351.3 V366.4 M568.8 351.3 V366.4 M470.2 351.3 H568.8 M470.2 355.1 H568.8 M470.2 358.9 H568.8 M470.2 362.6 H568.8 M470.2 366.4 H568.8" stroke="#e3e3e6" stroke-width="0.4" fill="none"/>
<path d="M470.2 351.3 V366.4 H568.8 V351.3" stroke="#d2d2d8" stroke-width="0.5" fill="none"/>
<text x="519.5" y="370.2" font-size="2.6" fill="#777" text-anchor="middle">主轴位置(mm)</text>
<path d="M470.2 375.1 V391.3 M484.3 375.1 V391.3 M498.4 375.1 V391.3 M512.5 375.1 V391.3 M526.5 375.1 V391.3 M540.6 375.1 V391.3 M554.7 375.1 V391.3 M568.8 375.1 V391.3 M470.2 375.1 H568.8 M470.2 379.2 H568.8 M470.2 383.2 H568.8 M470.2 387.2 H568.8 M470.2 391.3 H568.8" stroke="#e3e3e6" stroke-width="0.4" fill="none"/>
<path d="M470.2 375.1 V391.3 H568.8 V375.1" stroke="#d2d2d8" stroke-width="0.5" fill="none"/>
<text x="519.5" y="395.1" font-size="2.6" fill="#777" text-anchor="middle">主轴位置(mm)</text>
<path d="M470.2 366.4 C478 366 486 355.4 495.1 355.2 C505 355 512 363.4 522.2 363.2 C538 363 552 352.5 568.8 351.3" stroke="#8f8fae" stroke-width="0.9" fill="none"/>
<path d="M470.2 381.6 C474 378 477 375.6 482.1 375.7 C492 376 499 388.8 509.2 388.7 C522 388.6 532 379.6 546 379.4 C556 379.3 563 381 568.8 384.4" stroke="#8f8fae" stroke-width="0.9" fill="none"/>
<text x="517.3" y="407.6" font-size="4" fill="#1f86d6" text-anchor="middle">电子凸轮</text>
</g>
<g id="wm">
<text x="277.2" y="463.2" font-size="14.2" letter-spacing="0.9" fill="#fff" stroke="#0f2d52" stroke-width="1.7" stroke-linejoin="round" style="font-family:'Liberation Sans','Noto Sans CJK SC',sans-serif;font-weight:300;paint-order:stroke">图片发</text>
<rect x="320" y="434" width="280" height="40" fill="#e0ebf6" opacity="0.94"/>
<circle cx="346.6" cy="453.9" r="18.7" fill="#1d4b9b"/>
<path d="M327.6 445.6 C333 441.4 340 441.4 345.2 444.4 C349 446.6 351 449.5 353 452.9 C356 458 360 462 366.5 467.4" stroke="#dce8f4" stroke-width="4.4" fill="none"/>
<path d="M327.6 460.4 C333 464.6 340 463.6 345.2 460.9 C349 458.8 351 456.2 353 452.9 C356 448 360 445 366.5 441" stroke="#dce8f4" stroke-width="4.4" fill="none"/>
<text x="370.4" y="454" font-size="16.4" fill="#3f4f66" textLength="222" lengthAdjust="spacing" style="font-family:'Liberation Sans','Noto Sans CJK SC',sans-serif;font-weight:500">深圳长欣自动化设备有限公司</text>
<text x="371" y="466" font-size="8.4" fill="#3a4c64" textLength="220" lengthAdjust="spacingAndGlyphs" style="font-family:'Liberation Sans','Noto Sans CJK SC',sans-serif;font-weight:bold">SHENZHEN CHANGXIN AUTOMATION EQUIPMENT CO. LTD</text>
</g>
</svg>
</div></body></html>
